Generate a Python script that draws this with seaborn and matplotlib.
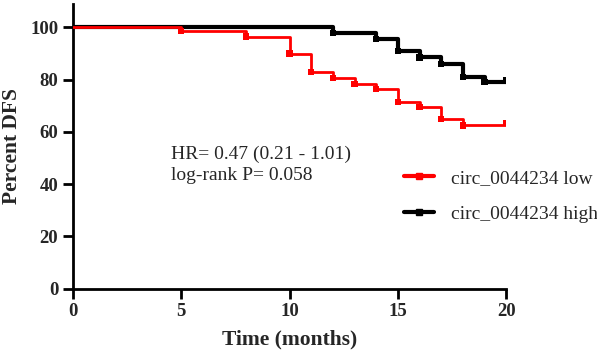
import pandas as pd
import matplotlib.pyplot as plt
import seaborn as sns
from matplotlib.lines import Line2D

# 생존곡선 데이터
low_time = [0, 5, 8, 10, 11, 12, 13, 14, 15, 16, 17, 18, 20]
low_pct = [100, 98.5, 96.5, 90, 83, 80.7, 78.5, 76.3, 71.5, 69.5, 65, 62.5, 62.5]
high_time = [0, 12, 14, 15, 16, 17, 18, 19, 20]
high_pct = [100, 97.8, 95.5, 91, 88.5, 86, 81, 79, 79]
groups = ['circ_0044234 low', 'circ_0044234 high']
colors = {'circ_0044234 low': '#ff0000', 'circ_0044234 high': 'black'}

df = pd.concat([
    pd.DataFrame({'time': low_time, 'pct': low_pct, 'group': groups[0]}),
    pd.DataFrame({'time': high_time, 'pct': high_pct, 'group': groups[1]}),
])
events = df[(df['time'] > 0) & (df['time'] < 20)]
censor = df[df['time'] == 20].copy()
censor['pct'] = censor['pct'] + 1

sns.set_style('white')
plt.rcParams['font.family'] = ['Liberation Serif', 'DejaVu Serif']

fig = plt.figure(figsize=(5.97, 3.59), dpi=100)
ax = fig.add_axes([0.122, 0.196, 0.726, 0.793])

sns.lineplot(data=df[df['group'] == groups[1]], x='time', y='pct', color='black',
             lw=3, drawstyle='steps-post', ax=ax, legend=False, zorder=2)
sns.lineplot(data=df[df['group'] == groups[0]], x='time', y='pct', color='#ff0000',
             lw=2, drawstyle='steps-post', ax=ax, legend=False, zorder=3)
sns.scatterplot(data=pd.concat([events, censor]), x='time', y='pct', hue='group',
                palette=colors, marker='s', s=20, linewidth=0, ax=ax, legend=False, zorder=4)

ax.set_xlim(0, 20)
ax.set_ylim(0, 109)
ax.set_xticks([0, 5, 10, 15, 20])
ax.set_yticks([0, 20, 40, 60, 80, 100])
for s in ['top', 'right']:
    ax.spines[s].set_visible(False)
for s in ['left', 'bottom']:
    ax.spines[s].set_linewidth(2)
    ax.spines[s].set_color('black')
ax.tick_params(direction='out', length=7, width=2, labelsize=13.5, color='black', left=True, bottom=True)
for lab in ax.get_xticklabels() + ax.get_yticklabels():
    lab.set_fontweight('bold')
ax.set_xlabel('Time (months)', fontsize=15.5, fontweight='bold', labelpad=7)
ax.set_ylabel('Percent DFS', fontsize=15.5, fontweight='bold', labelpad=6)

ax.text(4.53, 47.5, 'HR= 0.47 (0.21 - 1.01)\nlog-rank P= 0.058', fontsize=14,
        va='center', ha='left', linespacing=1.3)

handles = [Line2D([0], [0], color=colors[g], lw=3, marker='s', markersize=4) for g in groups]
ax.legend(handles, groups, loc='center left', bbox_to_anchor=(0.724, 0.325), frameon=False,
          fontsize=14, handlelength=1.55, labelspacing=0.95, handletextpad=0.88)

fig.savefig('out.png', dpi=100)
